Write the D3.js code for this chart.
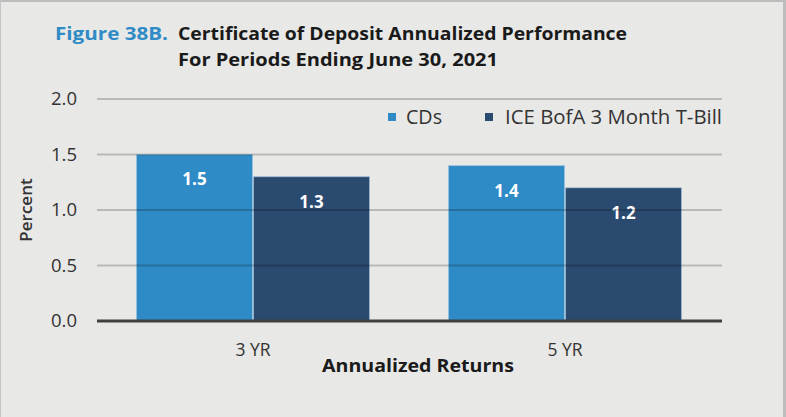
<!DOCTYPE html>
<html>
<head>
<meta charset="utf-8">
<script src="https://cdn.jsdelivr.net/npm/d3@7"></script>
<style>
  body { margin: 0; background: #fff; }
  svg text { font-family: "Open Sans", "DejaVu Sans", sans-serif; }
</style>
</head>
<body>
<svg id="chart" width="786" height="417"></svg>
<script>
// data
var categories = ["3 YR", "5 YR"];
var seriesNames = ["CDs", "ICE BofA 3 Month T-Bill"];
var cdValues = [1.5, 1.4];
var tbillValues = [1.3, 1.2];
var yTicks = [0, 0.5, 1.0, 1.5, 2.0];

var colors = ["#2e8bc6", "#2b4a6f"];

var svg = d3.select("#chart");

// panel + border
svg.append("rect").attr("x", 0).attr("y", 0).attr("width", 786).attr("height", 417).attr("fill", "#e8e8e6");
svg.append("rect").attr("x", 0).attr("y", 0).attr("width", 786).attr("height", 2).attr("fill", "#bdbdbd");
svg.append("rect").attr("x", 0).attr("y", 0).attr("width", 1).attr("height", 417).attr("fill", "#c4c4c4");
svg.append("rect").attr("x", 783).attr("y", 0).attr("width", 3).attr("height", 417).attr("fill", "#bdbdbd");

var pLeft = 97, pRight = 721, pTop = 99, pBottom = 321;

var x = d3.scaleBand().domain(categories).range([pLeft, pRight]).paddingInner(0.25).paddingOuter(0.125);
var xs = d3.scaleBand().domain(seriesNames).range([0, x.bandwidth()]).padding(0);
var y = d3.scaleLinear().domain([0, 2]).range([pBottom, pTop]);

// title
var title = svg.append("text").attr("y", 40).attr("font-size", 18.5).attr("font-weight", "bold");
title.append("tspan").attr("x", 55).attr("fill", "#2e8bc6").attr("textLength", 113).attr("lengthAdjust", "spacingAndGlyphs").text("Figure 38B.");
title.append("tspan").attr("x", 178).attr("fill", "#1a1a1a").attr("textLength", 449).attr("lengthAdjust", "spacingAndGlyphs").text("Certificate of Deposit Annualized Performance");
svg.append("text").attr("x", 178).attr("y", 66).attr("font-size", 18.5).attr("font-weight", "bold")
   .attr("fill", "#1a1a1a").attr("textLength", 320).attr("lengthAdjust", "spacingAndGlyphs")
   .text("For Periods Ending June 30, 2021");

// y labels
svg.selectAll(".ytick").data(yTicks).enter().append("text")
   .attr("class", "ytick")
   .attr("x", 77).attr("y", function(d) { return y(d); })
   .attr("dy", "0.35em").attr("text-anchor", "end")
   .attr("font-size", 18.5).attr("fill", "#333")
   .text(function(d) { return d.toFixed(1); });

svg.append("text")
   .attr("transform", "translate(32," + y(1) + ") rotate(-90)")
   .attr("text-anchor", "middle").attr("font-size", 17).attr("font-weight", "600").attr("fill", "#333")
   .text("Percent");

// bars
var rows = categories.map(function(c, i) { return { cat: c, vals: [cdValues[i], tbillValues[i]] }; });

var g = svg.selectAll(".grp").data(rows).enter().append("g")
   .attr("transform", function(d) { return "translate(" + x(d.cat) + ",0)"; });

g.selectAll("rect").data(function(d) { return d.vals; }).enter().append("rect")
   .attr("x", function(d, i) { return xs(seriesNames[i]) + 0.5; })
   .attr("width", xs.bandwidth() - 1)
   .attr("y", function(d) { return y(d); })
   .attr("height", function(d) { return pBottom - y(d); })
   .attr("fill", function(d, i) { return colors[i]; })
   .attr("stroke", "#9ec3dd").attr("stroke-opacity", 0.6).attr("stroke-width", 1);

// gridlines over the bars (they show through in the original)
svg.selectAll(".grid").data(yTicks.filter(function(d) { return d > 0; })).enter().append("line")
   .attr("x1", pLeft).attr("x2", pRight + 1)
   .attr("y1", function(d) { return y(d); }).attr("y2", function(d) { return y(d); })
   .attr("stroke", "#000").attr("stroke-opacity", 0.2).attr("stroke-width", 2);

svg.append("line").attr("x1", pLeft).attr("x2", pRight + 1).attr("y1", pBottom).attr("y2", pBottom)
   .attr("stroke", "#404040").attr("stroke-width", 3);

g.selectAll(".lbl").data(function(d) { return d.vals; }).enter().append("text")
   .attr("x", function(d, i) { return xs(seriesNames[i]) + xs.bandwidth() / 2; })
   .attr("y", function(d) { return y(d) + 25; })
   .attr("dy", "0.35em").attr("text-anchor", "middle")
   .attr("font-size", 17).attr("font-weight", "bold").attr("fill", "#fff")
   .text(function(d) { return d.toFixed(1); });

// x axis labels
svg.selectAll(".xlab").data(categories).enter().append("text")
   .attr("x", function(d) { return x(d) + x.bandwidth() / 2; })
   .attr("y", 350).attr("dy", "0.35em").attr("text-anchor", "middle")
   .attr("font-size", 17.5).attr("fill", "#333")
   .text(function(d) { return d; });

svg.append("text").attr("x", 418).attr("y", 366).attr("dy", "0.35em").attr("text-anchor", "middle")
   .attr("font-size", 17.5).attr("font-weight", "bold").attr("fill", "#1a1a1a")
   .attr("textLength", 192).attr("lengthAdjust", "spacingAndGlyphs")
   .text("Annualized Returns");

// legend
var legX = [388, 485];
var leg = svg.selectAll(".leg").data(seriesNames).enter().append("g")
   .attr("transform", function(d, i) { return "translate(" + legX[i] + ",117)"; });
leg.append("rect").attr("x", 0).attr("y", -4).attr("width", 8).attr("height", 8)
   .attr("fill", function(d, i) { return colors[i]; });
leg.append("text").attr("x", function(d, i) { return i == 0 ? 18 : 20; }).attr("dy", "0.35em")
   .attr("font-size", 19.5).attr("fill", "#333")
   .attr("textLength", function(d, i) { return i == 0 ? 36 : 217; })
   .attr("lengthAdjust", "spacingAndGlyphs")
   .text(function(d) { return d; });
</script>
</body>
</html>
